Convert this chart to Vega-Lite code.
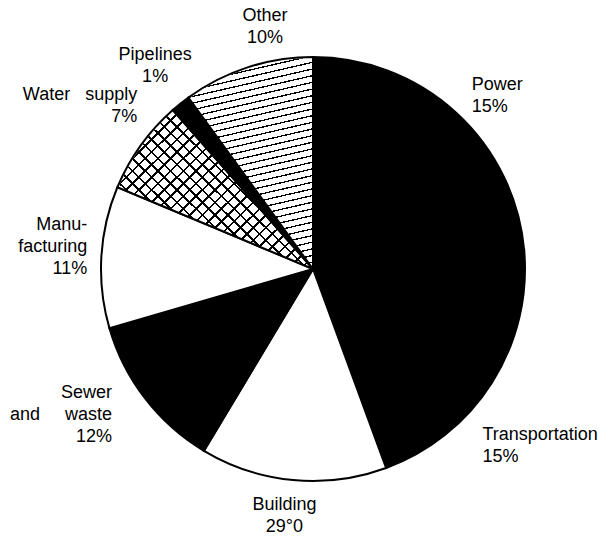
{
  "$schema": "https://vega.github.io/schema/vega-lite/v6.json",
  "width": 602,
  "height": 538,
  "padding": {"left": 12, "right": 0, "top": 0, "bottom": 0},
  "autosize": {"type": "none"},
  "background": "#ffffff",
  "data": {
    "values": [
      {"rank": 1, "name": "Power", "share": 23.6, "label": "Power\n15%"},
      {"rank": 2, "name": "Transportation", "share": 20.8, "label": "Transportation\n15%"},
      {"rank": 3, "name": "Building", "share": 14.2, "label": "Building\n29°0"},
      {"rank": 4, "name": "Sewer and waste", "share": 11.9, "label": "Sewer\nand\u00a0\u00a0\u00a0\u00a0\u00a0waste\n12%"},
      {"rank": 5, "name": "Manufacturing", "share": 10.8, "label": "Manu-\nfacturing\n11%"},
      {"rank": 6, "name": "Water supply", "share": 7.2, "label": "Water\u00a0\u00a0\u00a0supply\n7%"},
      {"rank": 7, "name": "Pipelines", "share": 1.5, "label": "Pipelines\n1%"},
      {"rank": 8, "name": "Other", "share": 10.0, "label": "Other\n10%"}
    ]
  },
  "encoding": {
    "theta": {"field": "share", "type": "quantitative", "stack": true},
    "order": {"field": "rank", "type": "quantitative", "sort": "ascending"}
  },
  "layer": [
    {
      "mark": {"type": "arc", "outerRadius": 212, "stroke": "#000", "strokeWidth": 2},
      "encoding": {
        "fill": {
          "condition": {"test": "indexof(['Power','Transportation','Sewer and waste','Pipelines'], datum.name) >= 0", "value": "#000000"},
          "value": "#ffffff"
        }
      }
    },
    {
      "mark": {"type": "arc", "outerRadius": 211},
      "encoding": {
        "fill": {
          "condition": [
            {"test": "datum.name === 'Other'", "value": {"gradient": "linear", "x1": 0, "y1": 0, "x2": 0.167, "y2": 1.24, "stops": [{"offset":0,"color":"transparent"},{"offset":0.02,"color":"transparent"},{"offset":0.02,"color":"#000"},{"offset":0.025,"color":"#000"},{"offset":0.025,"color":"transparent"},{"offset":0.045,"color":"transparent"},{"offset":0.045,"color":"#000"},{"offset":0.05,"color":"#000"},{"offset":0.05,"color":"transparent"},{"offset":0.07,"color":"transparent"},{"offset":0.07,"color":"#000"},{"offset":0.075,"color":"#000"},{"offset":0.075,"color":"transparent"},{"offset":0.095,"color":"transparent"},{"offset":0.095,"color":"#000"},{"offset":0.1,"color":"#000"},{"offset":0.1,"color":"transparent"},{"offset":0.12,"color":"transparent"},{"offset":0.12,"color":"#000"},{"offset":0.125,"color":"#000"},{"offset":0.125,"color":"transparent"},{"offset":0.145,"color":"transparent"},{"offset":0.145,"color":"#000"},{"offset":0.15,"color":"#000"},{"offset":0.15,"color":"transparent"},{"offset":0.17,"color":"transparent"},{"offset":0.17,"color":"#000"},{"offset":0.175,"color":"#000"},{"offset":0.175,"color":"transparent"},{"offset":0.195,"color":"transparent"},{"offset":0.195,"color":"#000"},{"offset":0.2,"color":"#000"},{"offset":0.2,"color":"transparent"},{"offset":0.22,"color":"transparent"},{"offset":0.22,"color":"#000"},{"offset":0.225,"color":"#000"},{"offset":0.225,"color":"transparent"},{"offset":0.245,"color":"transparent"},{"offset":0.245,"color":"#000"},{"offset":0.25,"color":"#000"},{"offset":0.25,"color":"transparent"},{"offset":0.27,"color":"transparent"},{"offset":0.27,"color":"#000"},{"offset":0.275,"color":"#000"},{"offset":0.275,"color":"transparent"},{"offset":0.295,"color":"transparent"},{"offset":0.295,"color":"#000"},{"offset":0.3,"color":"#000"},{"offset":0.3,"color":"transparent"},{"offset":0.32,"color":"transparent"},{"offset":0.32,"color":"#000"},{"offset":0.325,"color":"#000"},{"offset":0.325,"color":"transparent"},{"offset":0.345,"color":"transparent"},{"offset":0.345,"color":"#000"},{"offset":0.35,"color":"#000"},{"offset":0.35,"color":"transparent"},{"offset":0.37,"color":"transparent"},{"offset":0.37,"color":"#000"},{"offset":0.375,"color":"#000"},{"offset":0.375,"color":"transparent"},{"offset":0.395,"color":"transparent"},{"offset":0.395,"color":"#000"},{"offset":0.4,"color":"#000"},{"offset":0.4,"color":"transparent"},{"offset":0.42,"color":"transparent"},{"offset":0.42,"color":"#000"},{"offset":0.425,"color":"#000"},{"offset":0.425,"color":"transparent"},{"offset":0.445,"color":"transparent"},{"offset":0.445,"color":"#000"},{"offset":0.45,"color":"#000"},{"offset":0.45,"color":"transparent"},{"offset":0.47,"color":"transparent"},{"offset":0.47,"color":"#000"},{"offset":0.475,"color":"#000"},{"offset":0.475,"color":"transparent"},{"offset":0.495,"color":"transparent"},{"offset":0.495,"color":"#000"},{"offset":0.5,"color":"#000"},{"offset":0.5,"color":"transparent"},{"offset":0.52,"color":"transparent"},{"offset":0.52,"color":"#000"},{"offset":0.525,"color":"#000"},{"offset":0.525,"color":"transparent"},{"offset":0.545,"color":"transparent"},{"offset":0.545,"color":"#000"},{"offset":0.55,"color":"#000"},{"offset":0.55,"color":"transparent"},{"offset":0.57,"color":"transparent"},{"offset":0.57,"color":"#000"},{"offset":0.575,"color":"#000"},{"offset":0.575,"color":"transparent"},{"offset":0.595,"color":"transparent"},{"offset":0.595,"color":"#000"},{"offset":0.6,"color":"#000"},{"offset":0.6,"color":"transparent"},{"offset":0.62,"color":"transparent"},{"offset":0.62,"color":"#000"},{"offset":0.625,"color":"#000"},{"offset":0.625,"color":"transparent"},{"offset":0.645,"color":"transparent"},{"offset":0.645,"color":"#000"},{"offset":0.65,"color":"#000"},{"offset":0.65,"color":"transparent"},{"offset":0.67,"color":"transparent"},{"offset":0.67,"color":"#000"},{"offset":0.675,"color":"#000"},{"offset":0.675,"color":"transparent"},{"offset":0.695,"color":"transparent"},{"offset":0.695,"color":"#000"},{"offset":0.7,"color":"#000"},{"offset":0.7,"color":"transparent"},{"offset":0.72,"color":"transparent"},{"offset":0.72,"color":"#000"},{"offset":0.725,"color":"#000"},{"offset":0.725,"color":"transparent"},{"offset":0.745,"color":"transparent"},{"offset":0.745,"color":"#000"},{"offset":0.75,"color":"#000"},{"offset":0.75,"color":"transparent"},{"offset":0.77,"color":"transparent"},{"offset":0.77,"color":"#000"},{"offset":0.775,"color":"#000"},{"offset":0.775,"color":"transparent"},{"offset":0.795,"color":"transparent"},{"offset":0.795,"color":"#000"},{"offset":0.8,"color":"#000"},{"offset":0.8,"color":"transparent"},{"offset":0.82,"color":"transparent"},{"offset":0.82,"color":"#000"},{"offset":0.825,"color":"#000"},{"offset":0.825,"color":"transparent"},{"offset":0.845,"color":"transparent"},{"offset":0.845,"color":"#000"},{"offset":0.85,"color":"#000"},{"offset":0.85,"color":"transparent"},{"offset":0.87,"color":"transparent"},{"offset":0.87,"color":"#000"},{"offset":0.875,"color":"#000"},{"offset":0.875,"color":"transparent"},{"offset":0.895,"color":"transparent"},{"offset":0.895,"color":"#000"},{"offset":0.9,"color":"#000"},{"offset":0.9,"color":"transparent"},{"offset":0.92,"color":"transparent"},{"offset":0.92,"color":"#000"},{"offset":0.925,"color":"#000"},{"offset":0.925,"color":"transparent"},{"offset":0.945,"color":"transparent"},{"offset":0.945,"color":"#000"},{"offset":0.95,"color":"#000"},{"offset":0.95,"color":"transparent"},{"offset":0.97,"color":"transparent"},{"offset":0.97,"color":"#000"},{"offset":0.975,"color":"#000"},{"offset":0.975,"color":"transparent"},{"offset":0.995,"color":"transparent"},{"offset":0.995,"color":"#000"},{"offset":1,"color":"#000"}]}},
            {"test": "datum.name === 'Water supply'", "value": {"gradient": "linear", "x1": 0, "y1": 0, "x2": 1.561, "y2": 1.28, "stops": [{"offset":0,"color":"transparent"},{"offset":0.02,"color":"transparent"},{"offset":0.02,"color":"#000"},{"offset":0.025,"color":"#000"},{"offset":0.025,"color":"transparent"},{"offset":0.045,"color":"transparent"},{"offset":0.045,"color":"#000"},{"offset":0.05,"color":"#000"},{"offset":0.05,"color":"transparent"},{"offset":0.07,"color":"transparent"},{"offset":0.07,"color":"#000"},{"offset":0.075,"color":"#000"},{"offset":0.075,"color":"transparent"},{"offset":0.095,"color":"transparent"},{"offset":0.095,"color":"#000"},{"offset":0.1,"color":"#000"},{"offset":0.1,"color":"transparent"},{"offset":0.12,"color":"transparent"},{"offset":0.12,"color":"#000"},{"offset":0.125,"color":"#000"},{"offset":0.125,"color":"transparent"},{"offset":0.145,"color":"transparent"},{"offset":0.145,"color":"#000"},{"offset":0.15,"color":"#000"},{"offset":0.15,"color":"transparent"},{"offset":0.17,"color":"transparent"},{"offset":0.17,"color":"#000"},{"offset":0.175,"color":"#000"},{"offset":0.175,"color":"transparent"},{"offset":0.195,"color":"transparent"},{"offset":0.195,"color":"#000"},{"offset":0.2,"color":"#000"},{"offset":0.2,"color":"transparent"},{"offset":0.22,"color":"transparent"},{"offset":0.22,"color":"#000"},{"offset":0.225,"color":"#000"},{"offset":0.225,"color":"transparent"},{"offset":0.245,"color":"transparent"},{"offset":0.245,"color":"#000"},{"offset":0.25,"color":"#000"},{"offset":0.25,"color":"transparent"},{"offset":0.27,"color":"transparent"},{"offset":0.27,"color":"#000"},{"offset":0.275,"color":"#000"},{"offset":0.275,"color":"transparent"},{"offset":0.295,"color":"transparent"},{"offset":0.295,"color":"#000"},{"offset":0.3,"color":"#000"},{"offset":0.3,"color":"transparent"},{"offset":0.32,"color":"transparent"},{"offset":0.32,"color":"#000"},{"offset":0.325,"color":"#000"},{"offset":0.325,"color":"transparent"},{"offset":0.345,"color":"transparent"},{"offset":0.345,"color":"#000"},{"offset":0.35,"color":"#000"},{"offset":0.35,"color":"transparent"},{"offset":0.37,"color":"transparent"},{"offset":0.37,"color":"#000"},{"offset":0.375,"color":"#000"},{"offset":0.375,"color":"transparent"},{"offset":0.395,"color":"transparent"},{"offset":0.395,"color":"#000"},{"offset":0.4,"color":"#000"},{"offset":0.4,"color":"transparent"},{"offset":0.42,"color":"transparent"},{"offset":0.42,"color":"#000"},{"offset":0.425,"color":"#000"},{"offset":0.425,"color":"transparent"},{"offset":0.445,"color":"transparent"},{"offset":0.445,"color":"#000"},{"offset":0.45,"color":"#000"},{"offset":0.45,"color":"transparent"},{"offset":0.47,"color":"transparent"},{"offset":0.47,"color":"#000"},{"offset":0.475,"color":"#000"},{"offset":0.475,"color":"transparent"},{"offset":0.495,"color":"transparent"},{"offset":0.495,"color":"#000"},{"offset":0.5,"color":"#000"},{"offset":0.5,"color":"transparent"},{"offset":0.52,"color":"transparent"},{"offset":0.52,"color":"#000"},{"offset":0.525,"color":"#000"},{"offset":0.525,"color":"transparent"},{"offset":0.545,"color":"transparent"},{"offset":0.545,"color":"#000"},{"offset":0.55,"color":"#000"},{"offset":0.55,"color":"transparent"},{"offset":0.57,"color":"transparent"},{"offset":0.57,"color":"#000"},{"offset":0.575,"color":"#000"},{"offset":0.575,"color":"transparent"},{"offset":0.595,"color":"transparent"},{"offset":0.595,"color":"#000"},{"offset":0.6,"color":"#000"},{"offset":0.6,"color":"transparent"},{"offset":0.62,"color":"transparent"},{"offset":0.62,"color":"#000"},{"offset":0.625,"color":"#000"},{"offset":0.625,"color":"transparent"},{"offset":0.645,"color":"transparent"},{"offset":0.645,"color":"#000"},{"offset":0.65,"color":"#000"},{"offset":0.65,"color":"transparent"},{"offset":0.67,"color":"transparent"},{"offset":0.67,"color":"#000"},{"offset":0.675,"color":"#000"},{"offset":0.675,"color":"transparent"},{"offset":0.695,"color":"transparent"},{"offset":0.695,"color":"#000"},{"offset":0.7,"color":"#000"},{"offset":0.7,"color":"transparent"},{"offset":0.72,"color":"transparent"},{"offset":0.72,"color":"#000"},{"offset":0.725,"color":"#000"},{"offset":0.725,"color":"transparent"},{"offset":0.745,"color":"transparent"},{"offset":0.745,"color":"#000"},{"offset":0.75,"color":"#000"},{"offset":0.75,"color":"transparent"},{"offset":1,"color":"transparent"}]}}
          ],
          "value": "transparent"
        }
      }
    },
    {
      "mark": {"type": "arc", "outerRadius": 211},
      "encoding": {
        "fill": {
          "condition": {"test": "datum.name === 'Water supply'", "value": {"gradient": "linear", "x1": 0, "y1": 1, "x2": 1.561, "y2": -0.28, "stops": [{"offset":0,"color":"transparent"},{"offset":0.02,"color":"transparent"},{"offset":0.02,"color":"#000"},{"offset":0.025,"color":"#000"},{"offset":0.025,"color":"transparent"},{"offset":0.045,"color":"transparent"},{"offset":0.045,"color":"#000"},{"offset":0.05,"color":"#000"},{"offset":0.05,"color":"transparent"},{"offset":0.07,"color":"transparent"},{"offset":0.07,"color":"#000"},{"offset":0.075,"color":"#000"},{"offset":0.075,"color":"transparent"},{"offset":0.095,"color":"transparent"},{"offset":0.095,"color":"#000"},{"offset":0.1,"color":"#000"},{"offset":0.1,"color":"transparent"},{"offset":0.12,"color":"transparent"},{"offset":0.12,"color":"#000"},{"offset":0.125,"color":"#000"},{"offset":0.125,"color":"transparent"},{"offset":0.145,"color":"transparent"},{"offset":0.145,"color":"#000"},{"offset":0.15,"color":"#000"},{"offset":0.15,"color":"transparent"},{"offset":0.17,"color":"transparent"},{"offset":0.17,"color":"#000"},{"offset":0.175,"color":"#000"},{"offset":0.175,"color":"transparent"},{"offset":0.195,"color":"transparent"},{"offset":0.195,"color":"#000"},{"offset":0.2,"color":"#000"},{"offset":0.2,"color":"transparent"},{"offset":0.22,"color":"transparent"},{"offset":0.22,"color":"#000"},{"offset":0.225,"color":"#000"},{"offset":0.225,"color":"transparent"},{"offset":0.245,"color":"transparent"},{"offset":0.245,"color":"#000"},{"offset":0.25,"color":"#000"},{"offset":0.25,"color":"transparent"},{"offset":0.27,"color":"transparent"},{"offset":0.27,"color":"#000"},{"offset":0.275,"color":"#000"},{"offset":0.275,"color":"transparent"},{"offset":0.295,"color":"transparent"},{"offset":0.295,"color":"#000"},{"offset":0.3,"color":"#000"},{"offset":0.3,"color":"transparent"},{"offset":0.32,"color":"transparent"},{"offset":0.32,"color":"#000"},{"offset":0.325,"color":"#000"},{"offset":0.325,"color":"transparent"},{"offset":0.345,"color":"transparent"},{"offset":0.345,"color":"#000"},{"offset":0.35,"color":"#000"},{"offset":0.35,"color":"transparent"},{"offset":0.37,"color":"transparent"},{"offset":0.37,"color":"#000"},{"offset":0.375,"color":"#000"},{"offset":0.375,"color":"transparent"},{"offset":0.395,"color":"transparent"},{"offset":0.395,"color":"#000"},{"offset":0.4,"color":"#000"},{"offset":0.4,"color":"transparent"},{"offset":0.42,"color":"transparent"},{"offset":0.42,"color":"#000"},{"offset":0.425,"color":"#000"},{"offset":0.425,"color":"transparent"},{"offset":0.445,"color":"transparent"},{"offset":0.445,"color":"#000"},{"offset":0.45,"color":"#000"},{"offset":0.45,"color":"transparent"},{"offset":0.47,"color":"transparent"},{"offset":0.47,"color":"#000"},{"offset":0.475,"color":"#000"},{"offset":0.475,"color":"transparent"},{"offset":0.495,"color":"transparent"},{"offset":0.495,"color":"#000"},{"offset":0.5,"color":"#000"},{"offset":0.5,"color":"transparent"},{"offset":0.52,"color":"transparent"},{"offset":0.52,"color":"#000"},{"offset":0.525,"color":"#000"},{"offset":0.525,"color":"transparent"},{"offset":0.545,"color":"transparent"},{"offset":0.545,"color":"#000"},{"offset":0.55,"color":"#000"},{"offset":0.55,"color":"transparent"},{"offset":0.57,"color":"transparent"},{"offset":0.57,"color":"#000"},{"offset":0.575,"color":"#000"},{"offset":0.575,"color":"transparent"},{"offset":0.595,"color":"transparent"},{"offset":0.595,"color":"#000"},{"offset":0.6,"color":"#000"},{"offset":0.6,"color":"transparent"},{"offset":0.62,"color":"transparent"},{"offset":0.62,"color":"#000"},{"offset":0.625,"color":"#000"},{"offset":0.625,"color":"transparent"},{"offset":0.645,"color":"transparent"},{"offset":0.645,"color":"#000"},{"offset":0.65,"color":"#000"},{"offset":0.65,"color":"transparent"},{"offset":0.67,"color":"transparent"},{"offset":0.67,"color":"#000"},{"offset":0.675,"color":"#000"},{"offset":0.675,"color":"transparent"},{"offset":0.695,"color":"transparent"},{"offset":0.695,"color":"#000"},{"offset":0.7,"color":"#000"},{"offset":0.7,"color":"transparent"},{"offset":0.72,"color":"transparent"},{"offset":0.72,"color":"#000"},{"offset":0.725,"color":"#000"},{"offset":0.725,"color":"transparent"},{"offset":0.745,"color":"transparent"},{"offset":0.745,"color":"#000"},{"offset":0.75,"color":"#000"},{"offset":0.75,"color":"transparent"},{"offset":1,"color":"transparent"}]}},
          "value": "transparent"
        }
      }
    },
    {
      "mark": {"type": "text", "radius": 243, "align": "left", "thetaOffset": -0.03},
      "encoding": {"text": {"condition": {"test": "datum.name === 'Power'", "field": "label"}, "value": ""}}
    },
    {
      "mark": {"type": "text", "radius": 237, "align": "left", "thetaOffset": 0.209},
      "encoding": {"text": {"condition": {"test": "datum.name === 'Transportation'", "field": "label"}, "value": ""}}
    },
    {
      "mark": {"type": "text", "radius": 238, "align": "center", "thetaOffset": 0.026},
      "encoding": {"text": {"condition": {"test": "datum.name === 'Building'", "field": "label"}, "value": ""}}
    },
    {
      "mark": {"type": "text", "radius": 236, "align": "right", "thetaOffset": 0.105},
      "encoding": {"text": {"condition": {"test": "datum.name === 'Sewer and waste'", "field": "label"}, "value": ""}}
    },
    {
      "mark": {"type": "text", "radius": 230, "align": "right", "thetaOffset": 0.136},
      "encoding": {"text": {"condition": {"test": "datum.name === 'Manufacturing'", "field": "label"}, "value": ""}}
    },
    {
      "mark": {"type": "text", "radius": 247, "align": "right", "thetaOffset": 0.157},
      "encoding": {"text": {"condition": {"test": "datum.name === 'Water supply'", "field": "label"}, "value": ""}}
    },
    {
      "mark": {"type": "text", "radius": 266, "align": "center", "thetaOffset": 0.04},
      "encoding": {"text": {"condition": {"test": "datum.name === 'Pipelines'", "field": "label"}, "value": ""}}
    },
    {
      "mark": {"type": "text", "radius": 258, "align": "center", "thetaOffset": 0.127},
      "encoding": {"text": {"condition": {"test": "datum.name === 'Other'", "field": "label"}, "value": ""}}
    }
  ],
  "config": {
    "view": {"stroke": null},
    "text": {"font": "Liberation Sans", "fontSize": 18, "lineHeight": 22, "lineBreak": "\n", "baseline": "middle", "color": "#000"}
  }
}
